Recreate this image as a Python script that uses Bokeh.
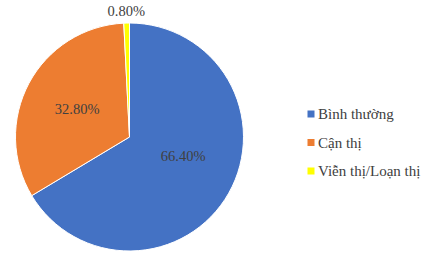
import math
from bokeh.plotting import figure
from bokeh.models import ColumnDataSource
from bokeh.core.properties import value
from bokeh.embed import file_html
from bokeh.resources import INLINE

categories = ["Bình thường", "Cận thị", "Viễn thị/Loạn thị"]
percents = [66.4, 32.8, 0.8]
labels = ["66.40%", "32.80%", "0.80%"]
colors = ["#4472C4", "#ED7D31", "#FFFF00"]

W, H = 431, 256
cx, cy, R = 129, H - 136.5, 114

total = sum(percents)
starts, ends, mids = [], [], []
a = math.pi / 2
for v in percents:
    span = v / total * 2 * math.pi
    starts.append(a)
    ends.append(a - span)
    mids.append(a - span / 2)
    a -= span

src = ColumnDataSource(dict(start=starts, end=ends, color=colors))

p = figure(width=W, height=H, x_range=(0, W), y_range=(0, H),
           output_backend="svg", toolbar_location=None, min_border=0)
p.axis.visible = False
p.grid.visible = False
p.outline_line_color = None
p.background_fill_color = "white"

p.wedge(x=cx, y=cy, radius=R, start_angle="start", end_angle="end",
        direction="clock", fill_color="color", line_color="white",
        line_width=1, source=src)

# data labels (Excel-like "best fit": large slice label pulled toward centre line)
lx, ly = [], []
for i, (m, v) in enumerate(zip(mids, percents)):
    if v > 50:
        ang = m + 0.17
        r = R * 0.5
    elif v > 5:
        ang = m
        r = R * 0.52
    else:
        ang = m
        r = R + 12
    lx.append(cx + r * math.cos(ang))
    ly.append(cy + r * math.sin(ang))
p.text(x=lx, y=ly, text=labels, text_font=value("Liberation Serif"),
       text_font_size="14.5px", text_color="#404040",
       text_align="center", text_baseline="middle")

# legend
leg_x = 310.5
leg_y = [H - 113.5, H - 142, H - 170.5]
p.scatter(x=[leg_x] * 3, y=leg_y, marker="square", size=7,
          fill_color=colors, line_color=None)
p.text(x=[leg_x + 7] * 3, y=leg_y, text=categories,
       text_font=value("Liberation Serif"), text_font_size="15px",
       text_color="#404040", text_align="left", text_baseline="middle")

open("out.html", "w").write(file_html(p, INLINE))
